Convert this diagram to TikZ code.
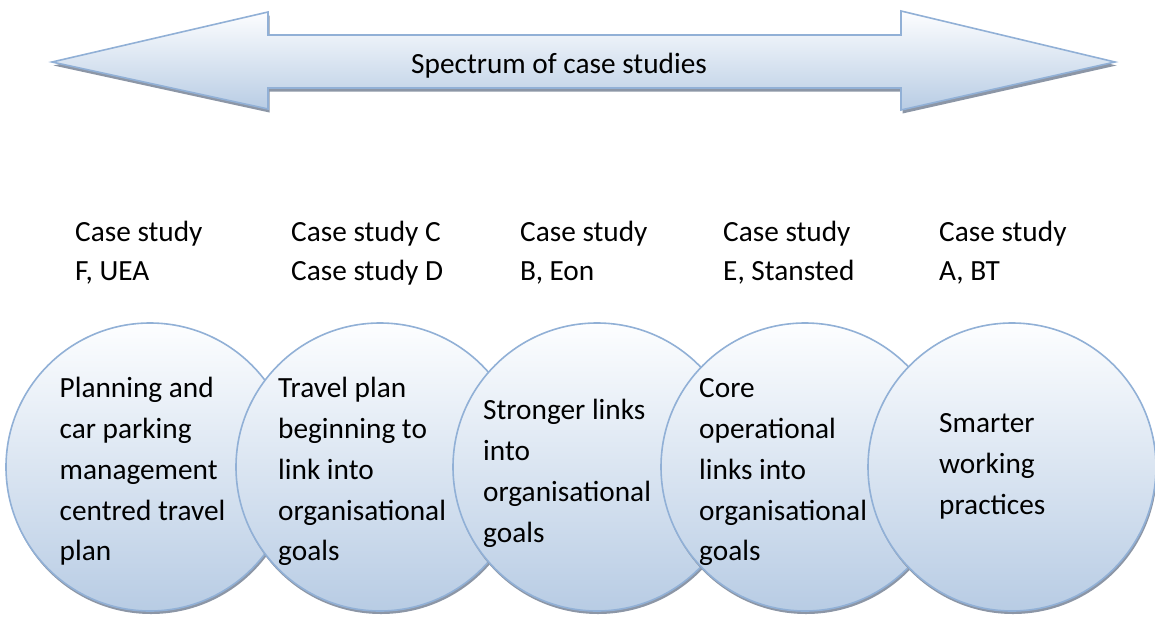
\documentclass[tikz,border=0pt]{standalone}
\usepackage{fontspec}
\setmainfont{Carlito}
\usetikzlibrary{shadows}
\definecolor{edgeblue}{RGB}{145,176,214}
\definecolor{filltop}{RGB}{253,254,255}
\definecolor{fillbot}{RGB}{184,204,228}
\definecolor{shadowgrey}{RGB}{140,150,166}
\tikzset{
  bubble/.style={circle, minimum size=288pt, inner sep=0pt, draw=edgeblue, line width=1.6pt,
    top color=filltop, bottom color=fillbot,
    drop shadow={shadow xshift=1pt, shadow yshift=-3pt, fill=shadowgrey, opacity=1}},
  txt/.style={anchor=base west, inner sep=0pt, font=\fontsize{29.3}{40.9}\selectfont},
  lbl/.style={anchor=base west, inner sep=0pt, font=\fontsize{29.3}{39.2}\selectfont}
}
\newcommand{\blk}[1]{\parbox[t]{200pt}{\raggedright #1}}
\begin{document}
\begin{tikzpicture}[x=1pt,y=1pt]
\useasboundingbox (0,0) rectangle (1155,-616);
% arrow shadow
\fill[shadowgrey] (53.5,-65.5) -- (269.5,-15.5) -- (269.5,-38.5) -- (902.5,-38.5) -- (902.5,-14.5) -- (1116.5,-65.5) -- (902.5,-113.5) -- (902.5,-91.5) -- (269.5,-91.5) -- (269.5,-112.5) -- cycle;
% arrow
\draw[edgeblue, line width=1.6pt, top color=filltop, bottom color=fillbot, line join=miter]
  (52,-62) -- (268,-12) -- (268,-35) -- (901,-35) -- (901,-11) -- (1115,-62) -- (901,-110) -- (901,-88) -- (268,-88) -- (268,-109) -- cycle;
\node[anchor=base, inner sep=0pt, font=\fontsize{29.3}{34}\selectfont] (spec) at (559,-73.3) {Spectrum of case studies};
% labels
\node[lbl] (l1) at (75,-241.7) {\blk{Case study\\F, UEA}};
\node[lbl] (l2) at (291,-241.7) {\blk{Case study C\\Case study D}};
\node[lbl] (l3) at (520,-241.7) {\blk{Case study\\B, Eon}};
\node[lbl] (l4) at (723,-241.7) {\blk{Case study\\E, Stansted}};
\node[lbl] (l5) at (939,-241.7) {\blk{Case study\\A, BT}};
% circles
\node[bubble] (c1) at (150,-467) {};
\node[bubble] (c2) at (380,-467) {};
\node[bubble] (c3) at (597,-467) {};
\node[bubble] (c4) at (805,-467) {};
\node[bubble] (c5) at (1012,-467) {};
% circle texts
\node[txt] (t1) at (59.5,-397.3) {\blk{Planning and\\car parking\\management\\centred travel\\plan}};
\node[txt] (t2) at (278,-397.3) {\blk{Travel plan\\beginning to\\link into\\organisational\\goals}};
\node[txt] (t3) at (483,-419.5) {\blk{Stronger links\\into\\organisational\\goals}};
\node[txt] (t4) at (699,-397.3) {\blk{Core\\operational\\links into\\organisational\\goals}};
\node[txt] (t5) at (939,-432.7) {\blk{Smarter\\working\\practices}};
\end{tikzpicture}
\end{document}
